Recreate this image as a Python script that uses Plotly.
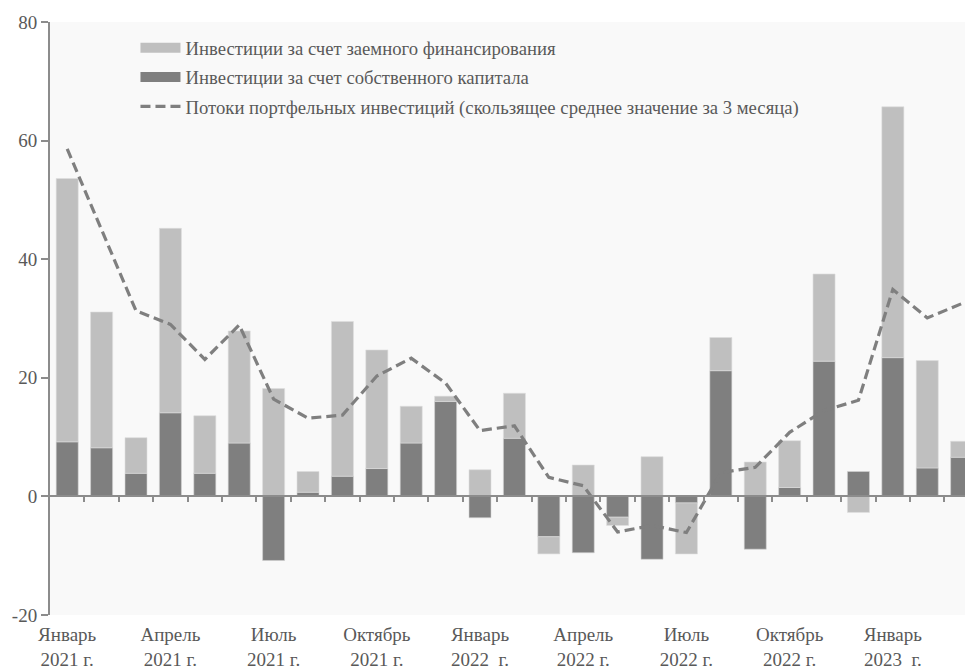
import plotly.graph_objects as go

MONTHS = [
    "Янв 21", "Фев 21", "Мар 21", "Апр 21", "Май 21", "Июн 21", "Июл 21", "Авг 21", "Сен 21",
    "Окт 21", "Ноя 21", "Дек 21", "Янв 22", "Фев 22", "Мар 22", "Апр 22", "Май 22", "Июн 22",
    "Июл 22", "Авг 22", "Сен 22", "Окт 22", "Ноя 22", "Дек 22", "Янв 23", "Фев 23", "Мар 23",
]
# млрд долл. США
EQUITY = [9.2, 8.2, 3.9, 14.1, 3.9, 9.0, -10.8, 0.7, 3.4, 4.7, 9.0, 16.0, -3.6, 9.8, -6.8,
          -9.5, -3.5, -10.6, -1.1, 21.2, -8.9, 1.5, 22.8, 4.2, 23.4, 4.8, 6.6]
DEBT = [44.4, 22.9, 6.0, 31.1, 9.7, 18.9, 18.2, 3.5, 26.1, 20.0, 6.2, 0.9, 4.5, 7.6, -2.9,
        5.3, -1.4, 6.7, -8.6, 5.6, 5.8, 7.9, 14.7, -2.7, 42.3, 18.1, 2.7]
FLOWS_3M = [58.6, 45.0, 31.3, 29.0, 23.1, 28.9, 16.4, 13.2, 13.7, 20.3, 23.3, 19.1, 11.1, 11.9,
            3.2, 1.8, -6.0, -4.9, -6.1, 4.0, 4.9, 10.8, 14.5, 16.2, 34.9, 30.1, 32.5]

TICK_IDX = [0, 3, 6, 9, 12, 15, 18, 21, 24]
TICK_TEXT = [
    "Январь<br>2021 г.", "Апрель<br>2021 г.", "Июль<br>2021 г.", "Октябрь<br>2021 г.",
    "Январь<br>2022  г.", "Апрель<br>2022 г.", "Июль<br>2022 г.", "Октябрь<br>2022 г.",
    "Январь<br>2023  г.",
]
Y_TICKS = [-20, 0, 20, 40, 60, 80]
Y_TEXT = ["-20", "0", "20", "40", "60", "80"]

NAME_DEBT = "Инвестиции за счет заемного финансирования"
NAME_EQ = "Инвестиции за счет собственного капитала"
NAME_LINE = "Потоки портфельных инвестиций (скользящее среднее значение за 3 месяца)"

LIGHT = "#bfbfbf"
DARK = "#7f7f7f"
AXIS = "#8c8c8c"
TEXT = "#595959"
FONT = "Liberation Serif, Times New Roman, DejaVu Serif, serif"

x = list(range(len(MONTHS)))
xrange_ = [-0.5, 26.33]

fig = go.Figure()
fig.add_trace(go.Bar(x=x, y=EQUITY, name=NAME_EQ, marker=dict(color=DARK, line=dict(color="#d4d4d4", width=0.6)),
                     showlegend=False, hovertext=MONTHS))
fig.add_trace(go.Bar(x=x, y=DEBT, name=NAME_DEBT, marker=dict(color=LIGHT, line=dict(color="#dedede", width=0.6)),
                     showlegend=False, hovertext=MONTHS))
# line on the overlaying axis that carries the zero line + tick marks
fig.add_trace(go.Scatter(x=x, y=FLOWS_3M, xaxis="x2", mode="lines", name=NAME_LINE, showlegend=False,
                         line=dict(color=DARK, width=3.2, dash="10px,5px"), hovertext=MONTHS))

# legend entries with wide swatches
fig.add_trace(go.Scatter(x=[None], y=[None], mode="lines", name=NAME_DEBT, legendgroup="a",
                         line=dict(color=LIGHT, width=12)))
fig.add_trace(go.Scatter(x=[None], y=[None], mode="lines", name=NAME_EQ, legendgroup="b",
                         line=dict(color=DARK, width=12)))
fig.add_trace(go.Scatter(x=[None], y=[None], mode="lines", name=NAME_LINE, legendgroup="c",
                         line=dict(color=DARK, width=3.2, dash="10px,5px")))

# the page adds an 8px body margin, so the figure is 8px smaller and margins shifted
fig.update_layout(
    width=965, height=661,
    margin=dict(l=42, r=0, t=14, b=54, autoexpand=False),
    paper_bgcolor="white",
    plot_bgcolor="#f9f9f9",
    barmode="relative",
    bargap=0.36,
    font=dict(family=FONT, size=18.7, color=TEXT),
    legend=dict(x=0.0926, y=0.988, xanchor="left", yanchor="top", bgcolor="rgba(0,0,0,0)",
                font=dict(family=FONT, size=18.7, color=TEXT), traceorder="grouped", tracegroupgap=2,
                itemwidth=40),
    xaxis=dict(range=xrange_, tickvals=TICK_IDX, ticktext=TICK_TEXT, showgrid=False, zeroline=False,
               showline=False, ticks="", automargin=False, ticklabelstandoff=6,
               tickfont=dict(family=FONT, size=19, color=TEXT)),
    xaxis2=dict(range=xrange_, overlaying="x", anchor="free", position=0.2, showgrid=False, zeroline=False,
                showline=True, linecolor=AXIS, linewidth=2, ticks="outside", ticklen=5, tickwidth=1.5,
                tickcolor=AXIS, tickvals=[i + 0.5 for i in x[:-1]], showticklabels=False, automargin=False),
    yaxis=dict(range=[-20, 80], tickvals=Y_TICKS, ticktext=Y_TEXT, showgrid=False, zeroline=False,
               showline=True, linecolor=AXIS, linewidth=2, ticks="outside", ticklen=7, tickwidth=1.5,
               tickcolor=AXIS, automargin=False, tickfont=dict(family=FONT, size=19, color=TEXT)),
)

fig.write_html("out.html")
